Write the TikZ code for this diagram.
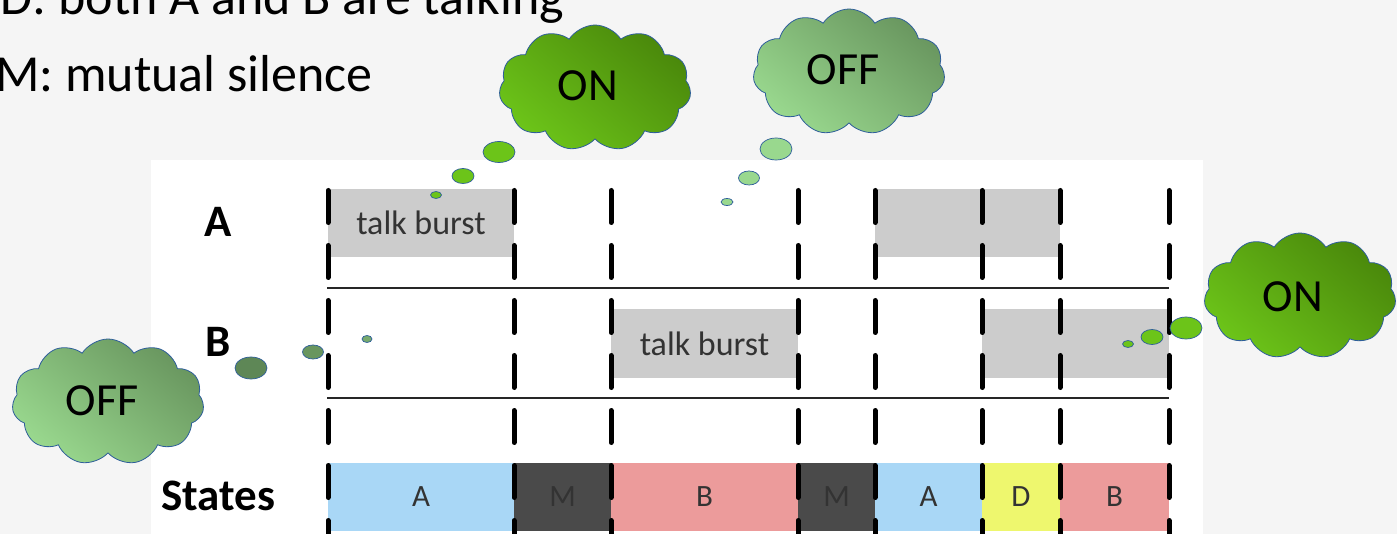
\documentclass[tikz,border=0pt]{standalone}
\usepackage{fontspec}
\setmainfont{Carlito}
\usetikzlibrary{shapes.symbols}

\definecolor{slide}{HTML}{F5F5F5}
\definecolor{burst}{HTML}{CCCCCC}
\definecolor{ink}{HTML}{333333}
\definecolor{stA}{HTML}{A9D7F6}
\definecolor{stM}{HTML}{4A4A4A}
\definecolor{stB}{HTML}{EC9B9B}
\definecolor{stD}{HTML}{EEF76E}
\definecolor{onLight}{HTML}{6CC419}
\definecolor{onDark}{HTML}{4A880B}
\definecolor{offLight}{HTML}{99D88E}
\definecolor{offDark}{HTML}{69965F}
\definecolor{rim}{HTML}{2E5E9A}

\begin{document}
\begin{tikzpicture}[x=1pt,y=-1pt,
  fs/.style={font=\fontsize{#1}{#1}\selectfont},
  % puff-shaped thought clouds
  cloudbox/.style={cloud, cloud puffs=11, cloud puff arc=115, cloud ignores aspect,
    draw=rim, line width=0.8pt, minimum width=#1, minimum height=126pt,
    inner sep=0pt},
  oncloud/.style={cloudbox=192pt, top color=onDark, bottom color=onLight, shading angle=-40},
  offcloud/.style={cloudbox=192pt, top color=offDark, bottom color=offLight, shading angle=-40},
  cloudtext/.style={fs=46, inner sep=0pt},
  onbubble/.style={fill=onLight, draw=rim, line width=0.7pt},
  offbubble/.style={fill=offLight, draw=rim, line width=0.7pt},
  % time line elements
  burstbox/.style={rectangle, fill=burst, minimum height=68pt, inner sep=0pt,
    text=ink, fs=34},
  statebox/.style={rectangle, fill=#1, minimum height=68pt, inner sep=0pt,
    text=ink, fs=31},
  rowlabel/.style={font=\bfseries\fontsize{45}{45}\selectfont, inner sep=0pt},
  boundary/.style={line width=5pt, line cap=round, dash pattern=on 32pt off 23pt},
  rowrule/.style={line width=2pt, draw=black!85},
]
\useasboundingbox (0,0) rectangle (1397,534);
\fill[slide] (0,0) rectangle (1397,534);
\fill[white] (151,160) rectangle (1203,534);

% bullet text
\node[fs=52, anchor=base east, inner sep=0pt] (bulletD) at (564,15) {D: both A and B are talking};
\node[fs=52, anchor=base east, inner sep=0pt] (bulletM) at (373,92) {M: mutual silence};

% talk bursts
\node[burstbox, minimum width=186pt] (burstA1) at (421,223) {talk burst};
\node[burstbox, minimum width=185pt] (burstA2) at (967.5,223) {};
\node[burstbox, minimum width=187pt] (burstB1) at (704.5,343.5) {talk burst};
\node[burstbox, minimum width=187pt] (burstB2) at (1075.5,343.5) {};

% states bar
\node[statebox=stA, minimum width=186pt] (s1) at (421,497) {A};
\node[statebox=stM, minimum width=97pt]  (s2) at (562.5,497) {M};
\node[statebox=stB, minimum width=187pt] (s3) at (704.5,497) {B};
\node[statebox=stM, minimum width=77pt]  (s4) at (836.5,497) {M};
\node[statebox=stA, minimum width=107pt] (s5) at (928.5,497) {A};
\node[statebox=stD, minimum width=78pt]  (s6) at (1021,497) {D};
\node[statebox=stB, minimum width=109pt] (s7) at (1114.5,497) {B};

% row labels
\node[rowlabel] (labA) at (218,222) {A};
\node[rowlabel] (labB) at (218,342) {B};
\node[rowlabel] (labS) at (218,496) {States};

% row separators
\draw[rowrule] (327,288) -- (1169,288);
\draw[rowrule] (327,398) -- (1169,398);

% dashed event boundaries
\foreach \t in {328,514,611,798,875,982,1060,1169}
  \draw[boundary] (\t,190.5) -- (\t,545);

% cloud: A turns ON
\node[oncloud] (cloudOnA) at (595,88) {};
\node[cloudtext] (txtOnA) at (588,86) {ON};
\fill[onbubble] (499,152) ellipse [x radius=16, y radius=10.5];
\fill[onbubble] (463,176) ellipse [x radius=11, y radius=7.5];
\fill[onbubble] (436,195) ellipse [x radius=5.5, y radius=3.5];

% cloud: A turns OFF
\node[offcloud] (cloudOffA) at (849,72) {};
\node[cloudtext] (txtOffA) at (843,70) {OFF};
\fill[offbubble] (776,149) ellipse [x radius=16, y radius=11];
\fill[offbubble] (749,178) ellipse [x radius=10.5, y radius=7];
\fill[offbubble] (727,202) ellipse [x radius=6, y radius=3.5];

% cloud: B is OFF
\node[offcloud] (cloudOffB) at (108,402) {};
\node[cloudtext] (txtOffB) at (102,401) {OFF};
\fill[offbubble, fill=offDark!90!black] (251,368) ellipse [x radius=16, y radius=11];
\fill[offbubble, fill=offDark] (313,352) ellipse [x radius=10.5, y radius=7];
\fill[offbubble, fill=offDark!70!offLight] (367,339) ellipse [x radius=5, y radius=3.5];

% cloud: B turns ON
\node[oncloud] (cloudOnB) at (1300,296) {};
\node[cloudtext] (txtOnB) at (1293,297) {ON};
\fill[onbubble] (1186,328) ellipse [x radius=16, y radius=11];
\fill[onbubble] (1152,337) ellipse [x radius=11, y radius=7.5];
\fill[onbubble] (1128,344) ellipse [x radius=5.5, y radius=3.5];
\end{tikzpicture}
\end{document}
